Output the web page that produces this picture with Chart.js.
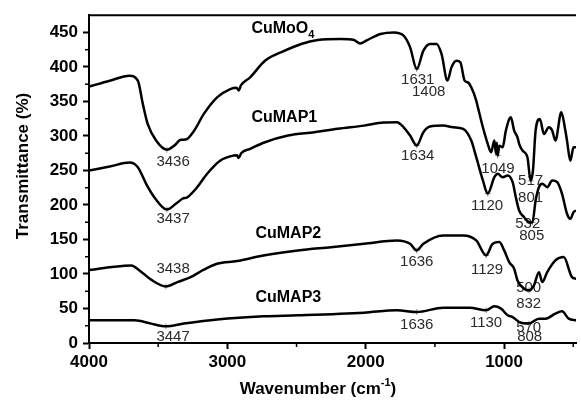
<!DOCTYPE html>
<html>
<head>
<meta charset="utf-8">
<script src="https://cdn.jsdelivr.net/npm/chart.js@4.4.0/dist/chart.umd.min.js"></script>
<style>
html,body{margin:0;padding:0;background:#fff}
#wrap{width:581px;height:401px}
</style>
</head>
<body>
<div id="wrap"><canvas id="ftir"></canvas></div>
<script>
// ═══════════ DATA ═══════════
// [wavenumber cm-1, transmittance %]
const cuMoO4=[[4000,371.5],[3850,380],[3707,387.4],[3647,380.2],[3611,346.5],[3576,317.5],[3515,293.3],[3437,280],[3384,286],[3336,294.4],[3301,294.8],[3241,307.4],[3170,332],[3074,356],[2979,368],[2933,370],[2919,366],[2900,374],[2835,385],[2728,409],[2585,423.6],[2466,433.3],[2347,439],[2180,440.5],[2084,439],[2041,434],[1989,439],[1893,447.8],[1797,450],[1726,445.3],[1679,428.4],[1631,397],[1583,423.6],[1535,433.3],[1488,433.3],[1452,418.8],[1409,380.2],[1380,399.4],[1344,409],[1316,406.7],[1285,380.2],[1261,377.7],[1237,370.5],[1201,351.2],[1189,341.5],[1153,312.6],[1118,288.6],[1094,276.4],[1070,293.3],[1058,274],[1052,290],[1046,271.6],[1034,286],[1010,283.6],[987,307.8],[951,327],[927,307.8],[903,298],[891,288.6],[867,278.9],[831,269.2],[808,235],[791,250],[772,307.8],[741,324.7],[712,303],[676,312.6],[652,307.8],[629,293.3],[586,334.3],[557,307.8],[545,293.3],[521,264],[498,283.6],[478,283.6]];
const cuMAP1=[[4000,250],[3850,255.7],[3707,261.5],[3647,254.7],[3587,230.7],[3528,211.3],[3437,193.5],[3372,201.7],[3325,209],[3289,211.3],[3218,225.8],[3146,245.2],[3050,264.4],[2955,271.6],[2930,272],[2919,268],[2900,275],[2835,281.3],[2728,290.9],[2561,300.6],[2370,305.4],[2203,310.3],[2012,315],[1869,319.4],[1774,319.8],[1726,312.6],[1679,300.6],[1631,286.1],[1583,305.4],[1535,313.6],[1440,315],[1368,312.6],[1296,310.3],[1237,293.3],[1201,269.2],[1153,235.5],[1118,216.6],[1070,240.2],[1046,245.2],[1010,240.2],[974,242.7],[938,233],[915,211.3],[891,192],[855,182.3],[820,175.1],[795,174.7],[772,206.5],[748,225.8],[724,230.7],[688,225.8],[652,235.5],[616,233],[581,216.2],[545,187.3],[521,180],[498,189.6],[478,192]];
const cuMAP2=[[4000,105.6],[3850,109.6],[3694,112.4],[3635,105.2],[3551,91.8],[3444,82],[3361,88.3],[3265,95.5],[3170,106.2],[3074,114.9],[2931,118.7],[2740,126.9],[2490,134.2],[2251,138.9],[2012,143.8],[1774,148.6],[1679,143.8],[1631,134.2],[1583,143.8],[1440,155.9],[1296,155.9],[1201,148.6],[1130,126.9],[1082,143.8],[1034,146.2],[999,134.2],[963,117.2],[927,107.7],[903,90.7],[855,78.7],[820,76.3],[784,83.5],[748,102.7],[724,88.3],[688,102.7],[629,119.7],[569,124.5],[509,95.5],[478,93]];
const cuMAP3=[[4000,32.9],[3671,32.9],[3551,28.1],[3444,24.2],[3313,28.1],[3074,33.9],[2740,38.6],[2490,40.1],[2012,44],[1774,47.3],[1631,44.9],[1440,51.2],[1249,51.2],[1130,47.3],[1070,53.1],[1022,49.8],[974,40.1],[938,37.6],[891,30.4],[820,28.1],[748,35.3],[700,35.3],[629,42.5],[581,45.9],[533,35.3],[478,32.9]];

// marked band positions
const markWn=[3437,3437,3444,3444,1631,1631,1631,1631,1046,1118,1130,1130,808,795,820,820];
const markT=[280,193.5,82,24.2,397,286,134,45,271.6,216.6,126.9,47.3,235,174.7,76.3,28.1];

// band labels (text centre in data units)
const peakText=['3436','3437','3438','3447','1631','1408','1634','1049','517','801','1120','532','805','1636','1129','500','832','1636','1130','570','808'];
const peakWn=[3392,3392,3392,3392,1624,1545,1624,1044,808,808,1123,829,800,1631,1123,822,822,1631,1130,822,815];
const peakT=[263,180.5,108.1,8.3,381.6,364.3,271.6,252.8,235.5,210.9,199.3,173.2,155.9,118.2,106.7,80.6,56,25.6,28.5,21.3,8.3];

// sample names (left edge in data units)
const nameText=['CuMoO','CuMAP1','CuMAP2','CuMAP3'];
const nameWn=[2826,2826,2797,2797];
const nameT=[455,326.6,158.8,66.1];

const xMajor=[4000,3000,2000,1000];
const xMinor=[3500,2500,1500,500];
const yMajor=[0,50,100,150,200,250,300,350,400,450];
const yMinor=[25,75,125,175,225,275,325,375,425];

const FONT='"Liberation Sans", Arial, sans-serif';

// ═══════════ DRAW ═══════════
const toXY=arr=>arr.map(p=>({x:p[0],y:p[1]}));
const line=d=>({data:toXY(d),borderColor:'#000',borderWidth:2.5,pointRadius:0,cubicInterpolationMode:'monotone',fill:false});

const decor={
  id:'decor',
  beforeDatasetsDraw(chart){
    const {ctx,scales:{x,y}}=chart;
    ctx.save();
    ctx.fillStyle='#2b2b2b';
    ctx.font='15px '+FONT;
    ctx.textAlign='center';ctx.textBaseline='middle';
    peakText.forEach((t,i)=>ctx.fillText(t,x.getPixelForValue(peakWn[i]),y.getPixelForValue(peakT[i])));
    ctx.fillStyle='#000';
    ctx.textAlign='left';
    nameText.forEach((t,i)=>{
      const px=x.getPixelForValue(nameWn[i]),py=y.getPixelForValue(nameT[i]);
      ctx.font='bold 16px '+FONT;
      ctx.fillText(t,px,py);
      if(i===0){
        const w=ctx.measureText(t).width;
        ctx.font='bold 11px '+FONT;
        ctx.fillText('4',px+w,py+6);
      }
    });
    ctx.restore();
  },
  afterDatasetsDraw(chart){
    const {ctx,chartArea:a,scales:{x,y}}=chart;
    ctx.save();
    ctx.strokeStyle='#000';
    ctx.lineWidth=2;
    ctx.beginPath();ctx.moveTo(a.left-1,a.top);ctx.lineTo(a.right,a.top);ctx.stroke();
    ctx.lineWidth=1.5;
    yMinor.forEach(v=>{const py=y.getPixelForValue(v);ctx.beginPath();ctx.moveTo(a.left-4,py);ctx.lineTo(a.left,py);ctx.stroke();});
    xMinor.forEach(v=>{const px=x.getPixelForValue(v);ctx.beginPath();ctx.moveTo(px,a.bottom);ctx.lineTo(px,a.bottom+4);ctx.stroke();});
    // axis titles
    ctx.fillStyle='#000';
    ctx.textBaseline='middle';
    ctx.font='bold 17px '+FONT;
    ctx.save();
    ctx.translate(23,166);ctx.rotate(-Math.PI/2);
    ctx.textAlign='center';
    ctx.fillText('Transmittance (%)',0,0);
    ctx.restore();
    const p1='Wavenumber (cm',p2='-1',p3=')';
    ctx.font='bold 17px '+FONT;
    const w1=ctx.measureText(p1).width,w3=ctx.measureText(p3).width;
    ctx.font='bold 11px '+FONT;
    const w2=ctx.measureText(p2).width;
    let sx=318-(w1+w2+w3)/2;
    ctx.textAlign='left';
    ctx.font='bold 17px '+FONT;ctx.fillText(p1,sx,389);
    ctx.font='bold 11px '+FONT;ctx.fillText(p2,sx+w1,383);
    ctx.font='bold 17px '+FONT;ctx.fillText(p3,sx+w1+w2,389);
    ctx.restore();
  }
};

const axisTicks={color:'#000',font:{family:FONT,size:17,weight:'bold'},callback:v=>String(v)};
const axisGrid={drawOnChartArea:false,drawTicks:true,tickLength:6,tickWidth:2,color:'#000'};

new Chart(document.getElementById('ftir'),{
  type:'line',
  data:{datasets:[
    line(cuMoO4),line(cuMAP1),line(cuMAP2),line(cuMAP3),
    {type:'scatter',data:markWn.map((v,i)=>({x:v,y:markT[i]})),pointStyle:'cross',pointRadius:3,borderColor:'#999',borderWidth:1,showLine:false}
  ]},
  options:{
    responsive:true,maintainAspectRatio:false,animation:false,
    layout:{padding:{top:14,right:0,left:0,bottom:0}},
    plugins:{legend:{display:false},tooltip:{enabled:false}},
    scales:{
      x:{type:'linear',reverse:true,min:480,max:4000,
        ticks:{...axisTicks,padding:3,maxRotation:0,autoSkip:false},
        grid:axisGrid,border:{color:'#000',width:2},
        afterBuildTicks(s){s.ticks=xMajor.map(v=>({value:v}));},
        afterFit(s){s.height=58;}},
      y:{type:'linear',min:0,max:475,
        ticks:{...axisTicks,padding:5,autoSkip:false},
        grid:axisGrid,border:{color:'#000',width:2},
        afterBuildTicks(s){s.ticks=yMajor.map(v=>({value:v}));},
        afterFit(s){s.width=89;}}
    }
  },
  plugins:[decor]
});
</script>
</body>
</html>
